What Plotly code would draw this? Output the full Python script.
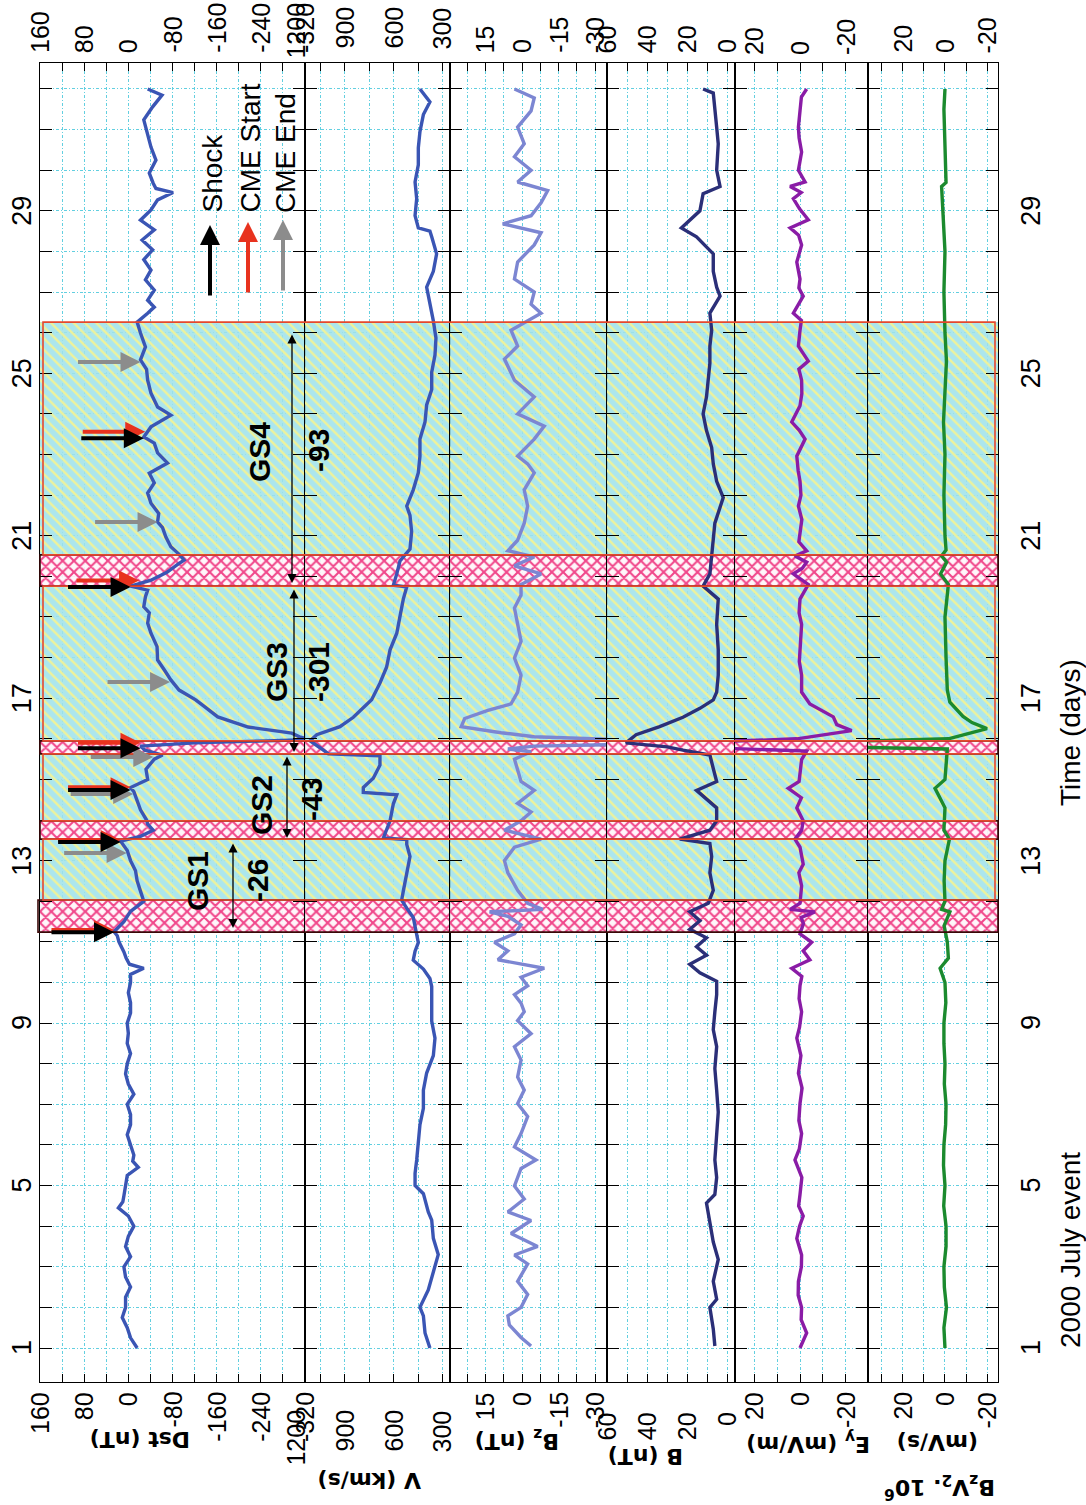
import numpy as np
import plotly.graph_objects as go

# ------------------------------------------------------------------
# DATA - time in days of July 2000
# ------------------------------------------------------------------
DST = [(1.0,-16),(1.25,-4),(1.5,2),(1.75,11),(2.0,5),(2.25,5),(2.5,-4),(2.75,5),(3.0,8),(3.25,-4),
       (3.5,5),(3.75,0),(4.0,-10),(4.25,0),(4.45,18),(4.6,10),(4.75,8),(5.0,5),(5.25,2),(5.45,-18),
       (5.6,-8),(5.75,-10),(6.0,-4),(6.25,2),(6.5,-4),(6.75,-4),(7.0,2),(7.25,-10),(7.5,0),(7.75,5),
       (8.0,2),(8.25,-4),(8.5,2),(8.75,0),(9.0,2),(9.25,-4),(9.5,-4),(9.75,0),(10.0,-4),(10.2,-4),
       (10.35,-28),(10.45,-2),(10.6,4),(10.75,8),(11.0,17),(11.15,20),(11.25,26),(11.5,8),(11.75,-4),
       (12.0,-28),(12.25,-22),(12.5,-16),(12.75,-13),(13.0,-4),(13.25,2),(13.48,14),(13.6,-22),
       (13.75,-45),(13.9,-35),(14.0,-33),(14.25,-22),(14.5,-16),(14.7,-10),(14.8,-4),(14.9,-20),
       (15.0,-35),(15.25,-32),(15.5,-47),(15.6,-62),(15.72,-30),(15.82,-22),(15.9,-120),(15.95,-250),
       (15.98,-330),(16.05,-310),(16.14,-296),(16.29,-217),(16.54,-162),(16.79,-138),(16.96,-122),
       (17.2,-92),(17.45,-77),(17.7,-65),(17.94,-53),(18.27,-52),(18.6,-41),(18.85,-35),(19.1,-38),
       (19.25,-28),(19.5,-31),(19.66,-35),(19.76,-4),(19.9,-40),(20.1,-70),(20.3,-90),(20.4,-101),
       (20.53,-93),(20.73,-77),(20.97,-68),(21.2,-62),(21.34,-53),(21.55,-55),(21.8,-41),(22.05,-35),
       (22.3,-47),(22.54,-38),(22.79,-71),(23.04,-53),(23.28,-47),(23.43,-28),(23.68,-41),(23.97,-77),
       (24.17,-53),(24.51,-41),(24.83,-35),(25.1,-33),(25.33,-22),(25.65,-31),(25.99,-22),(26.26,-16),
       (26.48,-35),(26.63,-47),(26.8,-35),(27.05,-47),(27.3,-31),(27.54,-41),(27.8,-28),(28.04,-44),
       (28.28,-25),(28.53,-47),(28.77,-22),(29.02,-41),(29.27,-53),(29.45,-81),(29.55,-50),(29.68,-45),
       (29.93,-38),(30.25,-50),(30.57,-41),(30.91,-35),(31.24,-28),(31.56,-44),(31.85,-61),(32.0,-35)]

V_SW = [(1.0,377),(1.37,407),(1.79,417),(2.0,438),(2.43,387),(2.87,356),(3.3,326),(3.7,356),(4.15,366),
        (4.35,387),(4.8,417),(5.0,468),(5.3,468),(5.63,458),(6.07,448),(6.5,438),(6.9,417),(7.35,417),
        (7.77,397),(8.2,356),(8.63,346),(9.05,366),(9.5,366),(9.9,366),(10.1,377),(10.33,417),(10.55,479),
        (10.77,468),(10.98,448),(11.2,458),(11.4,468),(11.6,479),(11.83,519),(12.03,550),(12.25,540),
        (12.7,519),(13.1,499),(13.4,519),(13.52,519),(13.56,662),(13.98,621),(14.4,601),(14.62,580),
        (14.68,785),(14.8,785),(15.03,724),(15.35,683),(15.58,683),(15.63,999),(15.78,1050),(15.95,1111),
        (16.1,1070),(16.3,928),(16.53,846),(16.75,785),(16.96,734),(17.37,683),(17.77,642),(18.19,621),
        (18.6,580),(19.02,560),(19.44,540),(19.74,519),(19.78,601),(20.06,580),(20.38,560),(20.67,499),
        (21.1,489),(21.5,499),(21.73,519),(22.13,479),(22.55,448),(22.96,438),(23.38,438),(23.8,407),
        (24.22,397),(24.6,366),(25.03,366),(25.45,346),(25.87,340),(26.29,356),(26.7,377),(27.12,397),
        (27.51,356),(27.94,336),(28.36,366),(28.5,377),(28.58,448),(28.88,468),(29.3,458),(29.71,468),
        (30.13,448),(30.55,448),(30.95,438),(31.37,417),(31.68,377),(32.0,438)]

BZ = [(1.05,-3.7),(1.26,0.4),(1.57,5.2),(1.79,5.8),(2.0,0.4),(2.32,-2.3),(2.64,1.8),(3.07,-2.3),(3.29,3.1),
      (3.5,-6.4),(3.82,4.5),(4.14,-3.7),(4.35,5.8),(4.67,-0.9),(4.99,3.1),(5.42,0.4),(5.63,-5.7),(5.95,3.1),
      (6.28,0.4),(6.7,-2.3),(7.02,1.8),(7.35,-0.9),(7.67,1.8),(8.09,0.4),(8.42,3.1),(8.74,-3.7),(9.06,1.8),
      (9.28,-0.9),(9.49,0.4),(9.7,3.1),(9.92,-2.3),(10.13,0.4),(10.35,-9.1),(10.56,9.9),(10.78,5.8),
      (10.99,11.3),(11.2,3.1),(11.42,0.4),(11.63,5.8),(11.74,13.3),(11.8,-8.5),(11.95,-2.3),(12.27,1.8),
      (12.7,5.8),(13.0,7.2),(13.33,3.1),(13.53,-7.8),(13.75,7.2),(13.98,0.4),(14.2,-3.7),(14.41,1.8),
      (14.73,-5.0),(14.95,0.4),(15.27,1.8),(15.5,3.1),(15.68,-3.7),(15.75,5.8),(15.82,-5.0),(15.88,-58),
      (15.96,-50),(16.05,-5.0),(16.15,8.6),(16.3,24.9),(16.5,23.5),(16.7,14.0),(16.86,4.5),(17.15,1.8),
      (17.57,0.4),(17.99,3.1),(18.4,0.4),(18.82,1.8),(19.22,3.1),(19.54,0.4),(19.8,0.4),(20.06,-7.8),
      (20.26,3.1),(20.48,-5.0),(20.63,5.8),(20.89,1.8),(21.31,-0.9),(21.73,-2.3),(22.13,-0.9),(22.55,-5.0),
      (22.77,-2.3),(22.96,1.8),(23.38,-5.0),(23.7,-9.1),(24.0,1.8),(24.42,-5.0),(24.83,3.1),(25.35,7.2),
      (25.67,1.8),(26.06,4.5),(26.48,-7.8),(26.7,-3.7),(27.0,-5.0),(27.32,3.1),(27.74,1.8),(28.16,-5.0),
      (28.46,-7.8),(28.68,7.9),(28.88,-3.7),(29.2,-7.8),(29.5,-10.5),(29.71,1.8),(30.0,-3.7),(30.33,3.1),
      (30.65,-0.9),(31.06,1.8),(31.46,-3.7),(31.78,-5.0),(32.0,3.1)]

BMAG = [(1.05,6.1),(1.47,6.9),(2.0,8.6),(2.2,5.2),(2.64,6.9),(3.18,4.4),(3.61,6.9),(4.04,8.6),(4.57,10.3),
        (4.78,6.1),(5.2,5.2),(5.63,6.1),(6.28,5.2),(6.81,4.4),(7.35,5.2),(7.88,6.1),(8.42,5.2),(8.84,6.9),
        (9.28,6.1),(9.7,5.2),(10.03,5.2),(10.24,13.6),(10.45,18.7),(10.67,10.3),(10.88,15.3),(11.1,10.3),
        (11.31,18.7),(11.52,13.6),(11.74,18.7),(11.95,9.4),(12.27,6.9),(12.7,8.6),(13.1,7.7),(13.42,8.6),
        (13.53,23.7),(13.75,8.6),(13.98,5.2),(14.3,5.2),(14.73,15.3),(14.95,5.2),(15.27,6.9),(15.6,8.6),
        (15.72,22.1),(15.8,30.0),(15.9,50.7),(16.1,45.6),(16.3,33.8),(16.53,22.1),(16.75,13.6),(16.96,6.9),
        (17.15,5.2),(17.57,4.4),(18.19,4.4),(18.82,5.2),(19.44,4.4),(19.76,12.0),(20.06,8.6),(20.48,7.7),
        (20.89,6.9),(21.31,6.1),(21.94,1.9),(22.34,5.2),(22.77,6.9),(23.17,7.7),(23.59,10.3),(24.0,12.0),
        (24.42,10.3),(24.83,9.4),(25.25,8.6),(25.67,8.6),(26.06,7.7),(26.48,8.6),(26.9,3.5),(27.12,5.2),
        (27.51,6.9),(27.94,6.9),(28.36,15.3),(28.58,22.9),(28.78,18.7),(29.0,13.6),(29.42,12.0),(29.6,3.5),
        (30.0,5.2),(30.65,4.4),(31.06,5.2),(31.46,6.1),(31.9,6.9),(32.0,12.0)]

EY = [(1.0,0),(1.37,-2.9),(1.7,-0.5),(2.0,-0.7),(2.3,0.8),(2.64,0.7),(3.0,-0.6),(3.29,-0.7),(3.7,1.4),
      (4.0,0.2),(4.25,-1.4),(4.5,0.6),(4.78,0),(5.2,-0.8),(5.63,2.2),(5.9,0.3),(6.28,-0.7),(6.6,0.5),
      (7.02,0),(7.4,-0.9),(7.77,0.7),(8.2,-0.4),(8.63,1.4),(8.9,0.2),(9.28,-0.7),(9.6,0.4),(9.92,0),
      (10.15,-0.8),(10.35,3.6),(10.56,-4.3),(10.78,-1.4),(10.99,-5.1),(11.2,0),(11.45,-1.5),(11.6,-0.5),
      (11.74,-6.5),(11.8,4.3),(11.95,0),(12.38,-0.7),(12.7,0.5),(12.91,-1.4),(13.33,0),(13.53,2.2),
      (13.75,-0.7),(13.98,-1.4),(14.3,1.4),(14.55,-0.6),(14.78,5.1),(14.95,0.4),(15.16,0),(15.49,-0.7),
      (15.7,-2.9),(15.78,40),(15.92,40),(16.0,1.4),(16.2,-22.5),(16.35,-16),(16.54,-14.5),(16.86,-4.3),
      (17.15,-0.7),(17.57,-0.7),(17.9,0.3),(18.19,0),(18.5,-0.6),(18.82,-0.7),(19.1,0.4),(19.44,0),
      (19.8,-3.6),(20.06,2.9),(20.2,-1.0),(20.35,-2.9),(20.5,2.2),(20.63,-2.9),(20.85,0.5),(21.1,0),
      (21.4,-0.8),(21.73,0.7),(22.0,-0.4),(22.34,0),(22.6,0.8),(22.96,1.4),(23.38,-2.2),(23.6,0.4),
      (23.8,3.6),(24.2,0),(24.5,-0.8),(24.83,-0.7),(25.1,0.5),(25.3,-3.6),(25.67,0.7),(26.06,0),
      (26.3,-0.6),(26.48,2.9),(26.9,-1.4),(27.1,0.5),(27.32,0),(27.74,1.4),(28.16,-0.7),(28.4,0.6),
      (28.58,4.3),(28.78,-3.6),(29.05,0.2),(29.3,2.9),(29.45,-0.5),(29.6,4.3),(29.71,-2.2),(30.0,0.7),
      (30.45,-0.7),(30.8,0.4),(31.06,0.7),(31.46,0),(31.8,-0.6),(32.0,-2.9)]

BZV2 = [(1.0,0),(1.5,0.5),(2.0,-0.7),(2.5,0.3),(3.0,0.5),(3.5,-0.5),(4.0,-0.5),(4.5,0.6),(5.0,0),(5.5,0.7),
        (6.0,0.5),(6.5,-0.3),(7.0,-0.5),(7.5,0.3),(8.0,0),(8.5,0.5),(9.0,0.5),(9.5,-0.4),(10.0,0),
        (10.35,2.3),(10.6,-1.6),(11.0,-1.1),(11.4,0.4),(11.74,-2.3),(11.8,1.6),(12.0,0),(12.5,0.4),(13.0,0),
        (13.53,-2.1),(13.75,0.5),(14.3,0),(14.78,4.7),(15.0,0),(15.5,-0.5),(15.75,-1.1),(15.8,50),
        (15.93,50),(16.0,-1.6),(16.1,-8.5),(16.25,-19.8),(16.4,-12.7),(16.55,-8.5),(16.9,-2.3),(17.2,-1.1),
        (18.0,-0.5),(19.0,0),(19.8,-1.6),(20.06,2.1),(20.35,-0.8),(20.5,1.6),(20.65,-0.5),(21.0,0),
        (22.0,0.5),(23.0,0),(23.8,0.7),(24.5,0),(25.3,-0.7),(26.0,0),(27.0,0.5),(28.0,0),(28.6,0.7),
        (29.3,1.6),(29.6,1.6),(29.7,-0.5),(30.5,0),(31.5,0.5),(32.0,0)]

GS_BANDS = [(12.03, 13.53), (13.98, 15.63), (15.95, 19.76), (20.53, 26.26)]      # storm phases
SHOCK_BANDS = [(11.24, 12.03), (13.53, 13.98), (15.63, 15.95), (19.76, 20.53)]   # sheath intervals
SHOCK_T = [11.24, 13.46, 14.74, 15.77, 19.74, 23.40]
CME_START_T = [11.29, 13.51, 14.81, 15.90, 19.90, 23.56]
CME_END_T = [13.19, 14.64, 15.55, 17.40, 21.34, 25.28]
GS_NAMES = ["GS1", "GS2", "GS3", "GS4"]
GS_DST_MIN = [-26, -43, -301, -93]

DAY_TICKS = [1, 5, 9, 13, 17, 21, 25, 29]
DST_TICKS = [160, 80, 0, -80, -160, -240, -320]
V_TICKS = [1200, 900, 600, 300]
BZ_TICKS = [15, 0, -15, -30]
B_TICKS = [60, 40, 20, 0]
EY_TICKS = [20, 0, -20]
BV_TICKS = [20, 0, -20]

# ------------------------------------------------------------------
# LAYOUT (pixels of the 1086 x 1505 page)
# ------------------------------------------------------------------
W, H = 1086, 1505
PL, PR, PT, PB = 40, 998, 63, 1382
T_LO, T_HI = 0.163, 32.64
TICK_FONT = 25

NARROW = "Liberation Sans Narrow, Arial Narrow, Liberation Sans, Arial, sans-serif"
WIDE = "DejaVu Sans, Verdana, sans-serif"

def fx(px):
    return (px - PL) / (PR - PL)

def fy(py):
    return (PB - py) / (PB - PT)

# lab = (top label shift, bottom label shift) in px
PANELS = [
    dict(data=DST, px=(40, 305), rng=[160, -320], dtick=40, ticks=DST_TICKS, color="#3a55b4", lab=(8, -8)),
    dict(data=V_SW, px=(305, 450), rng=[1142, 254], dtick=150, ticks=V_TICKS, color="#3a55b4", lab=(12, -26)),
    dict(data=BZ, px=(450, 607), rng=[29.5, -34.8], dtick=7.5, ticks=BZ_TICKS, color="#7c86d2", lab=(8, -8)),
    dict(data=BMAG, px=(607, 735), rng=[60.2, -4.0], dtick=10, ticks=B_TICKS, color="#2b2f78", lab=(8, -28)),
    dict(data=EY, px=(735, 868), rng=[28.3, -29.6], dtick=10, ticks=EY_TICKS, color="#8a1ca6", lab=(6, -8)),
    dict(data=BZV2, px=(868, 998), rng=[36.3, -25.0], dtick=10, ticks=BV_TICKS, color="#1b8a2e", lab=(8, -8)),
]

GRID = "#62cfe0"
fig = go.Figure()
annotations = []
layout = {}


def band_poly(bands, x0, x1):
    xs, ys = [], []
    for a, b in bands:
        xs += [x0, x1, x1, x0, x0, None]
        ys += [a, a, b, b, a, None]
    return xs, ys


for i, p in enumerate(PANELS):
    k = "" if i == 0 else str(i + 1)
    xname, yname = "x" + k, "y" + k
    dom = [fx(p["px"][0]), fx(p["px"][1])]
    layout["xaxis" + k] = dict(
        domain=dom, range=p["rng"], anchor=yname,
        tick0=0, dtick=p["dtick"], ticks="inside", ticklen=8, tickwidth=1.2, tickcolor="black",
        showticklabels=False, showline=True, mirror="ticks", linecolor="black", linewidth=1,
        showgrid=True, gridcolor=GRID, gridwidth=1, griddash="3px,2px,1px,2px", zeroline=False,
    )
    ya = dict(
        domain=[0, 1], range=[T_LO, T_HI], anchor=xname,
        tick0=0, dtick=1, ticks="inside", ticklen=12, tickwidth=1.4, tickcolor="black",
        showticklabels=False, showline=True, mirror="ticks", linecolor="black", linewidth=1,
        showgrid=True, gridcolor=GRID, gridwidth=1, griddash="3px,2px,1px,2px", zeroline=False,
    )
    if i > 0:
        ya["matches"] = "y"
    layout["yaxis" + k] = ya

    x0, x1 = p["rng"]
    gx, gy = band_poly(GS_BANDS, x0, x1)
    fig.add_trace(go.Scatter(
        x=gx, y=gy, xaxis=xname, yaxis=yname, mode="lines", fill="toself",
        line=dict(width=0), hoverinfo="skip", fillcolor="rgba(160,226,234,0.88)",
        fillpattern=dict(shape="\\", bgcolor="rgba(160,226,234,0.88)", fgcolor="#eef29a",
                         size=8, solidity=0.3, fillmode="replace")))
    sx, sy = band_poly(SHOCK_BANDS, x0, x1)
    fig.add_trace(go.Scatter(
        x=sx, y=sy, xaxis=xname, yaxis=yname, mode="lines", fill="toself",
        line=dict(width=0), hoverinfo="skip", fillcolor="rgba(255,240,246,0.9)",
        fillpattern=dict(shape="x", bgcolor="rgba(255,246,250,0.9)", fgcolor="#f0468a",
                         size=8, solidity=0.45, fillmode="replace")))

    t = [a for a, _ in p["data"]]
    v = [b for _, b in p["data"]]
    fig.add_trace(go.Scatter(x=v, y=t, xaxis=xname, yaxis=yname, mode="lines",
                             line=dict(color=p["color"], width=3.4), hoverinfo="skip"))

    # value tick labels, top and bottom, placed through the panel's linear scale
    r0, r1 = p["rng"]
    for val in p["ticks"]:
        xp = dom[0] + (val - r0) / (r1 - r0) * (dom[1] - dom[0])
        txt = str(val)
        est_len = 0.56 * TICK_FONT * len(txt) + 4
        top_shift = p["lab"][0]
        if est_len + top_shift > PT - 2:
            # keep long labels on the page: hang them from the page's top edge
            top = dict(y=1 + (PT - 1) / (PB - PT), yanchor="top", yshift=0)
        else:
            top = dict(y=1, yanchor="bottom", yshift=top_shift)
        bottom = dict(y=0, yanchor="top", yshift=p["lab"][1])
        for pos in (top, bottom):
            annotations.append(dict(
                x=xp, xref="paper", yref="paper", xanchor="center",
                text=txt, textangle=-90, showarrow=False,
                font=dict(family=NARROW, size=TICK_FONT, color="black"), **pos))

# band outlines across all panels
shapes = []
for j, (a, b) in enumerate(SHOCK_BANDS):
    shapes.append(dict(type="rect", xref="paper", yref="y", x0=fx(38 if j == 0 else 40), x1=fx(998),
                       y0=a, y1=b, line=dict(color="#3a0808", width=1.6), fillcolor="rgba(0,0,0,0)"))
for a, b in GS_BANDS:
    shapes.append(dict(type="rect", xref="paper", yref="y", x0=fx(43), x1=fx(995),
                       y0=a, y1=b, line=dict(color="#e5482e", width=1.6), fillcolor="rgba(0,0,0,0)"))

# time tick labels (left and right)
for d in DAY_TICKS:
    for xp in (fx(22), fx(1031)):
        annotations.append(dict(x=xp, xref="paper", y=d, yref="y", xanchor="center", yanchor="middle",
                                text=str(d), textangle=-90, showarrow=False,
                                font=dict(family=NARROW, size=27, color="black")))

# axis titles (page is rotated: the left-axis titles are upside down)
titles = [("Dst (nT)", 140, 1440), ("V (km/s)", 370, 1480), ("B<sub>z</sub> (nT)", 517, 1440),
          ("B (nT)", 646, 1457), ("E<sub>y</sub> (mV/m)", 808, 1443), ("(mV/s)", 938, 1443),
          ("B<sub>z</sub>V<sub>2</sub>. 10<sup>6</sup>", 940, 1487)]
for txt, xp, yp in titles:
    annotations.append(dict(x=fx(xp), xref="paper", y=fy(yp), yref="paper", xanchor="center",
                            yanchor="middle", text="<b>%s</b>" % txt, textangle=180, showarrow=False,
                            font=dict(family=WIDE, size=22, color="black")))
for txt, xp, yp in (("Time (days)", 1070, 733), ("2000 July event", 1070, 1250)):
    annotations.append(dict(x=fx(xp), xref="paper", y=fy(yp), yref="paper", xanchor="center",
                            yanchor="middle", text=txt, textangle=-90, showarrow=False,
                            font=dict(family=NARROW, size=28, color="black")))

# storm labels
dst_t = np.array([a for a, _ in DST])
dst_v = np.array([b for _, b in DST])
label_pos = [((197, 881), (257, 881)), ((262, 805), (311, 800)),
             ((276, 672), (318, 672)), ((259, 452), (318, 451))]
for name, mn, ((gx_, gy_), (mx_, my_)) in zip(GS_NAMES, GS_DST_MIN, label_pos):
    for txt, xp, yp in ((name, gx_, gy_), (str(mn), mx_, my_)):
        annotations.append(dict(x=fx(xp), xref="paper", y=fy(yp), yref="paper", xanchor="center",
                                yanchor="middle", text="<b>%s</b>" % txt, textangle=-90, showarrow=False,
                                font=dict(family=NARROW, size=30, color="black")))

# double headed arrows for the storm extents
for xp, ytop, ybot in ((233, 842, 928), (287, 755, 838), (294, 588, 752), (292, 333, 583)):
    annotations.append(dict(x=fx(xp), xref="paper", y=fy(ybot), yref="paper", ax=0, ay=ytop - ybot,
                            text="", showarrow=True, arrowside="end+start", arrowhead=2,
                            startarrowhead=2, arrowsize=1.4, startarrowsize=1.4, arrowwidth=1.3,
                            arrowcolor="black"))

# event arrows pointing at the Dst curve
for times, col in ((CME_END_T, "#8c8c8c"), (CME_START_T, "#e8321e"), (SHOCK_T, "#000000")):
    for tt in times:
        tip = float(np.max(np.interp(np.linspace(tt - 0.08, tt + 0.08, 17), dst_t, dst_v)))
        annotations.append(dict(x=tip, xref="x", y=tt, yref="y", ax=-64, ay=0, text="",
                                showarrow=True, arrowhead=2, arrowsize=1.0, arrowwidth=4,
                                arrowcolor=col, standoff=0))

# legend
for name, col, xp, ytip in (("Shock", "#000000", 210, 225), ("CME Start", "#e8321e", 248, 222),
                            ("CME End", "#8c8c8c", 283, 220)):
    annotations.append(dict(x=fx(xp), xref="paper", y=fy(ytip), yref="paper", ax=0, ay=72, text="",
                            showarrow=True, arrowhead=2, arrowsize=1.0, arrowwidth=4, arrowcolor=col))
    annotations.append(dict(x=fx(xp + 2), xref="paper", y=fy(215), yref="paper", xanchor="center",
                            yanchor="bottom", text=name, textangle=-90, showarrow=False,
                            font=dict(family=NARROW, size=28, color="black")))

fig.update_layout(
    width=W, height=H, margin=dict(l=PL, r=W - PR, t=PT, b=H - PB, pad=0),
    paper_bgcolor="white", plot_bgcolor="white", showlegend=False,
    annotations=annotations, shapes=shapes, **layout)

fig.write_html("out.html")
